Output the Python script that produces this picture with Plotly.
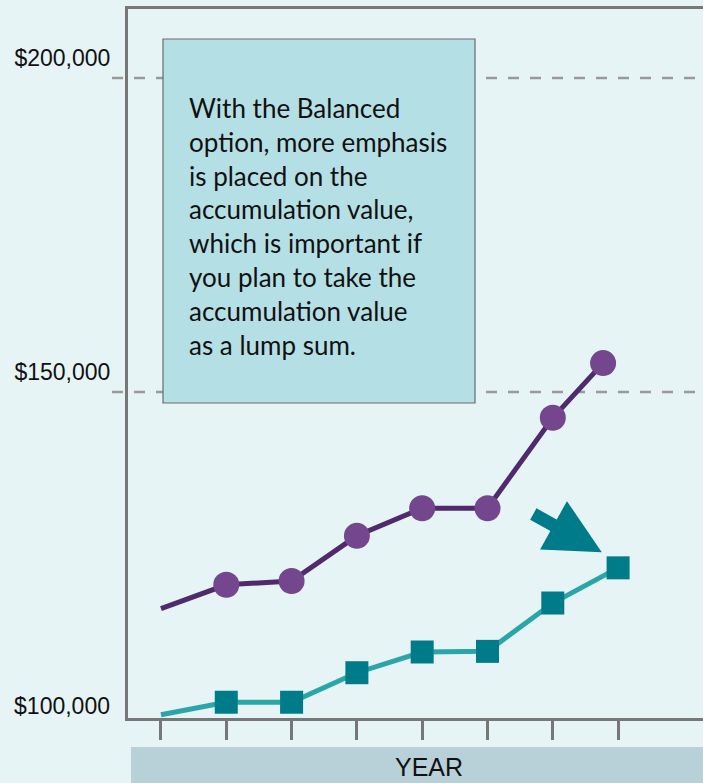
import plotly.graph_objects as go

# ---- data ----
years_idx = [0, 1, 2, 3, 4, 5, 6, 7]
teal_x = [0, 1, 2, 3, 4, 5, 6, 7]
teal_values = [98600, 100600, 100600, 105300, 108600, 108700, 116400, 122000]
purple_x = [0, 1, 2, 3, 4, 5, 6, 6.77]
purple_values = [115500, 119300, 119900, 127100, 131500, 131500, 145900, 154600]
y_tick_vals = [150000, 200000]
y_tick_text = ["$150,000", "$200,000"]
y_base_val = [100000]
y_base_text = ["$100,000"]
grid_vals = [150000, 200000]
note_text = ("With the Balanced<br>option, more emphasis<br>is placed on the<br>"
             "accumulation value,<br>which is important if<br>you plan to take the<br>"
             "accumulation value<br>as a lump sum.")
x_title = "YEAR"
arrow_target = (6.75, 124500)

BG = "#e6f4f5"
AXIS = "#777777"
NARROW = "Liberation Sans, Arial, sans-serif"
Y_RANGE = [98090, 210990]

W, H = 703, 783
ML, MR, MT, MB = 128, 0, 9, 65

fig = go.Figure()

fig.add_trace(go.Scatter(
    x=purple_x, y=purple_values, mode="lines+markers",
    line=dict(color="#4f2a6c", width=5),
    marker=dict(symbol="circle", size=[0] + [26] * (len(purple_x) - 1), color="#73468e",
                opacity=1, line=dict(width=0)),
    showlegend=False, hoverinfo="skip"))

fig.add_trace(go.Scatter(
    x=teal_x, y=teal_values, mode="lines+markers",
    line=dict(color="#2aa6a8", width=5),
    marker=dict(symbol="square", size=[0] + [23] * (len(teal_x) - 1), color="#007b8a",
                opacity=1, line=dict(width=0)),
    showlegend=False, hoverinfo="skip"))

# invisible carrier trace for the secondary (baseline label) axis
fig.add_trace(go.Scatter(x=[teal_x[0]], y=[teal_values[0]], yaxis="y2", mode="markers",
                         marker=dict(opacity=0, size=1), showlegend=False, hoverinfo="skip"))

shapes = []
for gv in grid_vals:
    shapes.append(dict(type="line", xref="paper", yref="y", x0=-16 / 575, x1=1,
                       y0=gv, y1=gv, line=dict(color="#999999", width=2.5, dash="11px,11px"),
                       layer="below"))


def px_x(p):
    return (p - ML) / (W - ML - MR)


def px_y(p):
    return 1 - (p - MT) / (H - MT - MB)


shapes.append(dict(type="rect", xref="paper", yref="paper",
                   x0=px_x(163), x1=px_x(475), y0=px_y(403), y1=px_y(39),
                   fillcolor="#b4e0e5", line=dict(color="#6a6a6a", width=1.2), layer="above"))
shapes.append(dict(type="rect", xref="paper", yref="paper",
                   x0=px_x(131), x1=1.01, y0=px_y(790), y1=px_y(747),
                   fillcolor="#b8d1d8", line=dict(width=0), layer="below"))

annotations = [
    dict(text=note_text, xref="paper", yref="paper", x=px_x(187), y=px_y(90),
         xanchor="left", yanchor="top", align="left", showarrow=False,
         font=dict(family="Lato, Noto Sans, sans-serif", size=26, color="#111111")),
    dict(text=x_title, xref="paper", yref="paper", x=px_x(429), y=px_y(767),
         xanchor="center", yanchor="middle", showarrow=False,
         font=dict(family=NARROW, size=25, color="#111111")),
    dict(text="", x=arrow_target[0], y=arrow_target[1], xref="x", yref="y",
         showarrow=True, arrowhead=2, arrowwidth=13, arrowsize=0.85,
         arrowcolor="#007b8a", ax=-70, ay=-39, standoff=0),
]

tickfont = dict(family=NARROW, size=23, color="#111111")

fig.update_layout(
    width=W, height=H,
    margin=dict(l=ML, r=MR, t=MT, b=MB, autoexpand=False),
    paper_bgcolor=BG, plot_bgcolor=BG,
    shapes=shapes, annotations=annotations,
    xaxis=dict(range=[-0.505, 8.30], tickvals=years_idx, showticklabels=False,
               ticks="outside", ticklen=19, tickwidth=2.5, tickcolor=AXIS,
               showline=True, linecolor=AXIS, linewidth=3, mirror=True,
               showgrid=False, zeroline=False, automargin=False),
    yaxis=dict(range=Y_RANGE, tickvals=y_tick_vals, ticktext=y_tick_text,
               showline=True, linecolor=AXIS, linewidth=3, ticks="",
               ticklabelshift=-20, ticklabelstandoff=10, tickfont=tickfont,
               showgrid=False, zeroline=False, automargin=False),
    yaxis2=dict(range=Y_RANGE, overlaying="y", side="left", tickvals=y_base_val,
                ticktext=y_base_text, showline=False, ticks="",
                ticklabelshift=0, ticklabelstandoff=17, tickfont=tickfont,
                showgrid=False, zeroline=False, automargin=False),
)

fig.write_html("out.html", config={"displayModeBar": False},
               post_script="document.body.style.margin='0';document.body.style.padding='0';")
